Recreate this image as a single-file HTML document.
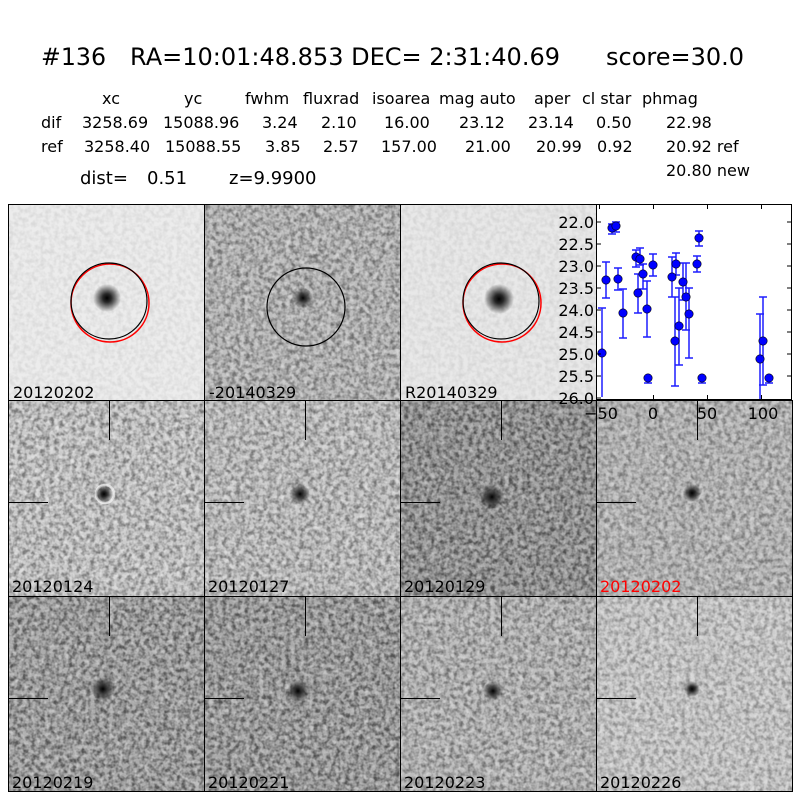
<!DOCTYPE html>
<html><head><meta charset="utf-8"><style>
html,body{margin:0;padding:0;background:#fff}
svg{display:block}
text{font-family:"DejaVu Sans","Liberation Sans",sans-serif}
</style></head><body>
<svg width="800" height="800" viewBox="0 0 800 800" xmlns="http://www.w3.org/2000/svg">
<defs>
<filter id="nz" x="0" y="0" width="1" height="1" filterUnits="objectBoundingBox">
<feTurbulence type="fractalNoise" baseFrequency="0.22" numOctaves="2" seed="3"/>
<feColorMatrix type="matrix" values="0 0 0 0 0  0 0 0 0 0  0 0 0 0 0  2.4 0 0 0 -0.85"/>
</filter>
<filter id="nz2" x="0" y="0" width="1" height="1" filterUnits="objectBoundingBox">
<feTurbulence type="fractalNoise" baseFrequency="0.2" numOctaves="2" seed="9"/>
<feColorMatrix type="matrix" values="0 0 0 0 1  0 0 0 0 1  0 0 0 0 1  2.4 0 0 0 -1.05"/>
</filter>
<radialGradient id="blob"><stop offset="0" stop-color="#000"/><stop offset="0.3" stop-color="#111" stop-opacity="0.9"/><stop offset="1" stop-color="#000" stop-opacity="0"/></radialGradient>
<radialGradient id="blobs"><stop offset="0" stop-color="#000"/><stop offset="0.4" stop-color="#222" stop-opacity="0.8"/><stop offset="1" stop-color="#000" stop-opacity="0"/></radialGradient>
</defs>

<g font-size="24" fill="#000">
<text x="41" y="65" textLength="65" lengthAdjust="spacingAndGlyphs">#136</text>
<text x="130" y="65" textLength="430" lengthAdjust="spacingAndGlyphs">RA=10:01:48.853 DEC= 2:31:40.69</text>
<text x="606" y="65" textLength="138" lengthAdjust="spacingAndGlyphs">score=30.0</text>
</g>
<g font-size="16" fill="#000">
<text x="102" y="104">xc</text><text x="184" y="104">yc</text><text x="245" y="104">fwhm</text>
<text x="303" y="104">fluxrad</text><text x="372" y="104">isoarea</text><text x="439" y="104">mag auto</text>
<text x="534" y="104">aper</text><text x="582" y="104">cl star</text><text x="642" y="104">phmag</text>
<text x="41" y="128">dif</text><text x="82" y="128">3258.69</text><text x="163" y="128">15088.96</text>
<text x="262" y="128">3.24</text><text x="321" y="128">2.10</text><text x="384" y="128">16.00</text>
<text x="459" y="128">23.12</text><text x="528" y="128">23.14</text><text x="596" y="128">0.50</text><text x="666" y="128">22.98</text>
<text x="41" y="152">ref</text><text x="84" y="152">3258.40</text><text x="165" y="152">15088.55</text>
<text x="265" y="152">3.85</text><text x="323" y="152">2.57</text><text x="381" y="152">157.00</text>
<text x="465" y="152">21.00</text><text x="536" y="152">20.99</text><text x="597" y="152">0.92</text><text x="666" y="152">20.92 ref</text>
<text x="666" y="176">20.80 new</text>
</g>
<g font-size="18" fill="#000">
<text x="80" y="184">dist=</text><text x="147" y="184">0.51</text><text x="229" y="184">z=9.9900</text>
</g>

<g>
<rect x="8" y="204" width="196" height="196" fill="#ececec"/><rect x="8" y="204" width="196" height="196" filter="url(#nz)" opacity="0.07"/>
<rect x="204" y="204" width="196" height="196" fill="#bdbdbd"/><rect x="204" y="204" width="196" height="196" filter="url(#nz)" opacity="0.4"/><rect x="204" y="204" width="196" height="196" filter="url(#nz2)" opacity="0.4"/>
<rect x="400" y="204" width="196" height="196" fill="#e8e8e8"/><rect x="400" y="204" width="196" height="196" filter="url(#nz)" opacity="0.07"/>

<rect x="8" y="400" width="196" height="196" fill="#cbcbcb"/><rect x="8" y="400" width="196" height="196" filter="url(#nz)" opacity="0.4"/><rect x="8" y="400" width="196" height="196" filter="url(#nz2)" opacity="0.5"/>
<rect x="204" y="400" width="196" height="196" fill="#c6c6c6"/><rect x="204" y="400" width="196" height="196" filter="url(#nz)" opacity="0.4"/><rect x="204" y="400" width="196" height="196" filter="url(#nz2)" opacity="0.45"/>
<rect x="400" y="400" width="196" height="196" fill="#a2a2a2"/><rect x="400" y="400" width="196" height="196" filter="url(#nz)" opacity="0.5"/><rect x="400" y="400" width="196" height="196" filter="url(#nz2)" opacity="0.35"/>
<rect x="596" y="400" width="196" height="196" fill="#bcbcbc"/><rect x="596" y="400" width="196" height="196" filter="url(#nz)" opacity="0.35"/><rect x="596" y="400" width="196" height="196" filter="url(#nz2)" opacity="0.4"/>

<rect x="8" y="596" width="196" height="196" fill="#acacac"/><rect x="8" y="596" width="196" height="196" filter="url(#nz)" opacity="0.5"/><rect x="8" y="596" width="196" height="196" filter="url(#nz2)" opacity="0.4"/>
<rect x="204" y="596" width="196" height="196" fill="#a9a9a9"/><rect x="204" y="596" width="196" height="196" filter="url(#nz)" opacity="0.5"/><rect x="204" y="596" width="196" height="196" filter="url(#nz2)" opacity="0.4"/>
<rect x="400" y="596" width="196" height="196" fill="#bcbcbc"/><rect x="400" y="596" width="196" height="196" filter="url(#nz)" opacity="0.4"/><rect x="400" y="596" width="196" height="196" filter="url(#nz2)" opacity="0.4"/>
<rect x="596" y="596" width="196" height="196" fill="#cdcdcd"/><rect x="596" y="596" width="196" height="196" filter="url(#nz)" opacity="0.3"/><rect x="596" y="596" width="196" height="196" filter="url(#nz2)" opacity="0.4"/>

<circle cx="107" cy="298" r="14" fill="url(#blob)"/>
<circle cx="303" cy="298" r="10" fill="url(#blobs)"/>
<circle cx="499" cy="299" r="15" fill="url(#blob)"/>
<circle cx="105" cy="494" r="9" fill="none" stroke="#fff" stroke-width="2.5" opacity="0.6"/>
<circle cx="104" cy="494" r="9" fill="url(#blob)"/>
<circle cx="300" cy="494" r="10" fill="url(#blobs)"/>
<circle cx="492" cy="497" r="12" fill="url(#blobs)"/>
<circle cx="692" cy="493" r="9" fill="url(#blob)"/>
<circle cx="103" cy="689" r="12" fill="url(#blobs)"/>
<circle cx="298" cy="691" r="11" fill="url(#blobs)"/>
<circle cx="493" cy="691" r="10" fill="url(#blobs)"/>
<circle cx="692" cy="689" r="8" fill="url(#blob)"/>

<circle cx="110" cy="303" r="39" fill="none" stroke="#f00" stroke-width="1.5"/>
<circle cx="109" cy="301" r="38" fill="none" stroke="#000" stroke-width="1.2"/>
<circle cx="306" cy="307" r="39" fill="none" stroke="#000" stroke-width="1.2"/>
<circle cx="502" cy="303" r="39" fill="none" stroke="#f00" stroke-width="1.5"/>
<circle cx="501" cy="301" r="38" fill="none" stroke="#000" stroke-width="1.2"/>

<g stroke="#000" stroke-width="1">
<path d="M109.5 400V440M8 502.5H48M305.5 400V440M204 502.5H244M501.5 400V440M400 502.5H440M697.5 400V440M596 502.5H636"/>
<path d="M109.5 596V636M8 698.5H48M305.5 596V636M204 698.5H244M501.5 596V636M400 698.5H440M697.5 596V636M596 698.5H636"/>
</g>

<rect x="596" y="204" width="196" height="196" fill="#fff"/>

<g fill="none" stroke="#000" stroke-width="1">
<rect x="8.5" y="204.5" width="196" height="196"/><rect x="204.5" y="204.5" width="196" height="196"/><rect x="400.5" y="204.5" width="196" height="196"/>
<rect x="8.5" y="400.5" width="196" height="196"/><rect x="204.5" y="400.5" width="196" height="196"/><rect x="400.5" y="400.5" width="196" height="196"/><rect x="596.5" y="400.5" width="196" height="196"/>
<rect x="8.5" y="596.5" width="196" height="195"/><rect x="204.5" y="596.5" width="196" height="195"/><rect x="400.5" y="596.5" width="196" height="195"/><rect x="596.5" y="596.5" width="196" height="195"/>
</g>

<g font-size="16" fill="#000">
<text x="13" y="398">20120202</text><text x="209" y="398">-20140329</text><text x="405" y="398">R20140329</text>
<text x="12" y="592">20120124</text><text x="208" y="592">20120127</text><text x="404" y="592">20120129</text><text x="600" y="592" fill="#f00">20120202</text>
<text x="12" y="788">20120219</text><text x="208" y="788">20120221</text><text x="404" y="788">20120223</text><text x="600" y="788">20120226</text>
</g>

<g stroke="#1f1fff" stroke-width="1.5" fill="none">
<path d="M602 308V397M606 262V298M612 224V234M616 222V232M618 268V290M623 289V338M636 250V267M638 274V313M640 248V265M643 264V289M647 281V337M648 375V383M653 254V276M672 257V297M675 297V386M676 253V275M679 288V365M683 263V300M686 263V330M689 288V358M697 256V272M699 231V246M702 375V383M760 314V400M763 297V385M769 375V383"/>
<path d="M598 308h8M602 262h8M602 298h8M608 224h8M608 234h8M612 222h8M612 232h8M614 268h8M614 290h8M619 289h8M619 338h8M632 250h8M632 267h8M634 274h8M634 313h8M636 248h8M636 265h8M639 264h8M639 289h8M643 281h8M643 337h8M644 383h8M649 254h8M649 276h8M668 257h8M668 297h8M671 297h8M671 386h8M672 253h8M672 275h8M675 288h8M675 365h8M679 263h8M679 300h8M682 263h8M682 330h8M685 288h8M685 358h8M693 256h8M693 272h8M695 231h8M695 246h8M698 383h8M756 314h8M759 297h8M759 385h8M765 383h8"/>
</g>
<g fill="#0000ff" stroke="#000" stroke-width="0.6">
<circle cx="602" cy="353" r="4.2"/><circle cx="606" cy="280" r="4.2"/><circle cx="612" cy="228" r="4.2"/><circle cx="616" cy="226" r="4.2"/>
<circle cx="618" cy="279" r="4.2"/><circle cx="623" cy="313" r="4.2"/><circle cx="636" cy="257" r="4.2"/><circle cx="638" cy="293" r="4.2"/>
<circle cx="640" cy="259" r="4.2"/><circle cx="643" cy="274" r="4.2"/><circle cx="647" cy="309" r="4.2"/><circle cx="648" cy="378" r="4.2"/>
<circle cx="653" cy="265" r="4.2"/><circle cx="672" cy="277" r="4.2"/><circle cx="675" cy="341" r="4.2"/><circle cx="676" cy="264" r="4.2"/>
<circle cx="679" cy="326" r="4.2"/><circle cx="683" cy="282" r="4.2"/><circle cx="686" cy="297" r="4.2"/><circle cx="689" cy="314" r="4.2"/>
<circle cx="697" cy="264" r="4.2"/><circle cx="699" cy="238" r="4.2"/><circle cx="702" cy="378" r="4.2"/><circle cx="760" cy="359" r="4.2"/>
<circle cx="763" cy="341" r="4.2"/><circle cx="769" cy="378" r="4.2"/>
</g>

<rect x="596.5" y="204.5" width="195" height="195" fill="none" stroke="#000" stroke-width="1"/>
<g stroke="#000" stroke-width="1">
<path d="M597 222h4M597 244h4M597 266h4M597 288h4M597 310h4M597 332h4M597 354h4M597 376h4M597 398h4"/>
<path d="M791 222h-4M791 244h-4M791 266h-4M791 288h-4M791 310h-4M791 332h-4M791 354h-4M791 376h-4"/>
<path d="M599.5 205v4M653.5 205v4M707.5 205v4M761.5 205v4M653.5 399v-4M707.5 399v-4M761.5 399v-4"/>
</g>
<g font-size="16" fill="#000" text-anchor="end">
<text x="594" y="228">22.0</text><text x="594" y="250">22.5</text><text x="594" y="272">23.0</text>
<text x="594" y="294">23.5</text><text x="594" y="316">24.0</text><text x="594" y="338">24.5</text>
<text x="594" y="360">25.0</text><text x="594" y="382">25.5</text><text x="594" y="404">26.0</text>
</g>
<g font-size="16" fill="#000" text-anchor="middle">
<text x="601" y="419">−50</text><text x="653" y="419">0</text><text x="707" y="419">50</text><text x="763" y="419">100</text>
</g>
</svg>
</body></html>
